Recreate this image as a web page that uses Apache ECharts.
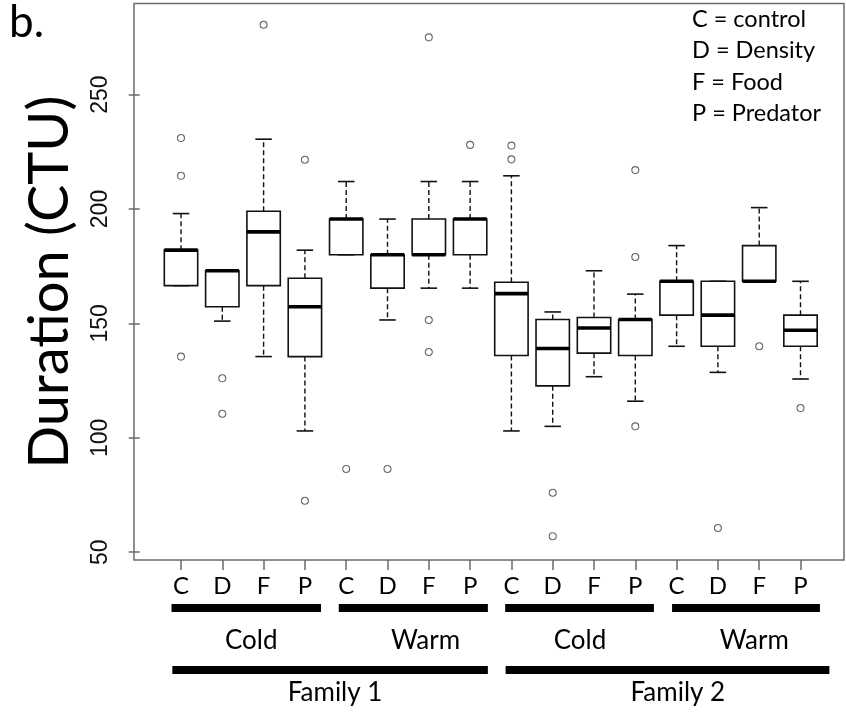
<!DOCTYPE html>
<html>
<head>
<meta charset="utf-8">
<script src="https://cdn.jsdelivr.net/npm/echarts@6/dist/echarts.min.js"></script>
<style>
  html, body { margin: 0; padding: 0; background: #fff; }
  #chart { width: 846px; height: 713px; }
</style>
</head>
<body>
<div id="chart"></div>
<script>
// treatment letters under each box (Family 1 Cold, Family 1 Warm, Family 2 Cold, Family 2 Warm)
const boxLabels = ['C', 'D', 'F', 'P', 'C', 'D', 'F', 'P', 'C', 'D', 'F', 'P', 'C', 'D', 'F', 'P'];
const whiskerLow = [166.5, 151, 135.5, 103, 180, 151.5, 165.4, 165.4, 103, 105, 126.7, 116, 140, 128.6, 168.4, 125.7];
const quart1 = [166.5, 157.3, 166.5, 135.5, 180, 165.4, 180, 180, 136, 122.7, 137, 136, 153.6, 140, 168.4, 140];
const medians = [182, 173, 190, 157.3, 195.6, 180, 180, 195.6, 163, 139, 148, 151.7, 168.4, 153.6, 168.4, 147];
const quart3 = [182, 173, 199, 169.7, 195.6, 180, 195.6, 195.6, 168, 151.7, 152.6, 151.7, 168.4, 168.4, 184, 153.6];
const whiskerHigh = [198, 173, 230.5, 182, 212, 195.6, 212, 212, 214.5, 155, 173, 162.8, 184, 168.4, 200.6, 168.4];
const outliers = [
  [231, 214.5, 135.5], [126, 110.5], [280.5], [221.5, 72.5],
  [86.4], [86.4], [275, 151.5, 137.5], [228],
  [227.7, 221.7], [76, 57], [], [217, 179, 105],
  [], [60.6], [140], [113]
];
const yTicks = [50, 100, 150, 200, 250];
const legendLines = ['C = control', 'D = Density', 'F = Food', 'P = Predator'];
// under-axis brackets, in box-index units: [from, to]
const tempBars = [[0.77, 4.39], [4.82, 8.43], [8.85, 12.45], [12.89, 16.47]];
const tempNames = ['Cold', 'Warm', 'Cold', 'Warm'];
const tempNameAt = [2.7, 6.92, 10.66, 14.88];
const familyBars = [[0.79, 8.43], [8.86, 16.7]];
const familyNames = ['Family 1', 'Family 2'];
const familyNameAt = [4.73, 13.03];

const positions = boxLabels.map((_, i) => i + 1);
const boxData = positions.map((x, i) => [x, whiskerLow[i], quart1[i], medians[i], quart3[i], whiskerHigh[i]]);
const outlierData = [];
outliers.forEach((list, i) => list.forEach(v => outlierData.push([i + 1, v])));

const chart = echarts.init(document.getElementById('chart'));

function renderBox(params, api) {
  const x = api.value(0);
  const lo = api.coord([x, api.value(1)]);
  const q1 = api.coord([x, api.value(2)]);
  const md = api.coord([x, api.value(3)]);
  const q3 = api.coord([x, api.value(4)]);
  const hi = api.coord([x, api.value(5)]);
  const half = api.size([0.808, 0])[0] / 2;
  const cap = api.size([0.4, 0])[0] / 2;
  const cx = md[0];
  const solid = { stroke: '#111', lineWidth: 1.6, fill: null };
  const dashed = { stroke: '#111', lineWidth: 1.4, lineDash: [5, 3], fill: null };
  return {
    type: 'group',
    children: [
      { type: 'line', shape: { x1: cx, y1: q3[1], x2: cx, y2: hi[1] }, style: dashed },
      { type: 'line', shape: { x1: cx, y1: q1[1], x2: cx, y2: lo[1] }, style: dashed },
      { type: 'line', shape: { x1: cx - cap, y1: hi[1], x2: cx + cap, y2: hi[1] }, style: solid },
      { type: 'line', shape: { x1: cx - cap, y1: lo[1], x2: cx + cap, y2: lo[1] }, style: solid },
      { type: 'rect', shape: { x: cx - half, y: q3[1], width: half * 2, height: q1[1] - q3[1] }, style: { stroke: '#111', lineWidth: 1.6, fill: '#fff' } },
      { type: 'line', shape: { x1: cx - half, y1: md[1], x2: cx + half, y2: md[1] }, style: { stroke: '#000', lineWidth: 3.6 } }
    ]
  };
}

chart.setOption({
  animation: false,
  grid: { left: 134, right: 2, top: 3.5, bottom: 153, show: true, borderColor: '#6b6b6b', borderWidth: 1.5, backgroundColor: 'transparent' },
  xAxis: {
    type: 'value', min: -0.138, max: 17.053,
    axisLine: { show: false },
    splitLine: { show: false },
    axisTick: { show: true, length: 10, customValues: positions, lineStyle: { color: '#6b6b6b', width: 1.5 } },
    axisLabel: {
      customValues: positions, margin: 14,
      formatter: v => boxLabels[Math.round(v) - 1] || '',
      color: '#000', fontFamily: 'Lato', fontSize: 24
    }
  },
  yAxis: {
    type: 'value', min: 46.6, max: 289.8,
    axisLine: { show: false },
    splitLine: { show: false },
    axisTick: { show: true, length: 11, customValues: yTicks, lineStyle: { color: '#6b6b6b', width: 1.5 } },
    axisLabel: {
      customValues: yTicks, rotate: 90, margin: 22,
      color: '#111', fontFamily: 'Liberation Sans', fontSize: 23
    }
  },
  series: [
    { type: 'custom', renderItem: renderBox, data: boxData, encode: { x: 0, y: [1, 2, 3, 4, 5] }, clip: false },
    {
      type: 'scatter', data: outlierData, symbol: 'circle', symbolSize: 7,
      itemStyle: { color: 'transparent', borderColor: '#444', borderWidth: 1.1 }
    }
  ]
});

const px = v => chart.convertToPixel({ xAxisIndex: 0 }, v);
const textFont = 'Lato';
const graphics = [
  { type: 'text', x: 9, y: 45, style: { text: 'b.', font: '44px ' + textFont, fill: '#000', textVerticalAlign: 'bottom' } },
  { type: 'text', x: 50, y: 282, rotation: Math.PI / 2, style: { text: 'Duration (CTU)', font: '56px ' + textFont, fill: '#000', textAlign: 'center', textVerticalAlign: 'middle' } }
];
legendLines.forEach((t, i) => {
  graphics.push({ type: 'text', x: 692, y: 19 + i * 31.5, style: { text: t, font: '23.5px ' + textFont, fill: '#000', textVerticalAlign: 'middle' } });
});
tempBars.forEach((b, i) => {
  const x1 = px(b[0]), x2 = px(b[1]);
  graphics.push({ type: 'rect', shape: { x: x1, y: 604, width: x2 - x1, height: 8 }, style: { fill: '#000' } });
  graphics.push({ type: 'text', x: px(tempNameAt[i]), y: 641, style: { text: tempNames[i], font: '26px ' + textFont, fill: '#000', textAlign: 'center', textVerticalAlign: 'middle' } });
});
familyBars.forEach((b, i) => {
  const x1 = px(b[0]), x2 = px(b[1]);
  graphics.push({ type: 'rect', shape: { x: x1, y: 666, width: x2 - x1, height: 8 }, style: { fill: '#000' } });
  graphics.push({ type: 'text', x: px(familyNameAt[i]), y: 693, style: { text: familyNames[i], font: '26px ' + textFont, fill: '#000', textAlign: 'center', textVerticalAlign: 'middle' } });
});
chart.setOption({ graphic: { elements: graphics } });
</script>
</body>
</html>
